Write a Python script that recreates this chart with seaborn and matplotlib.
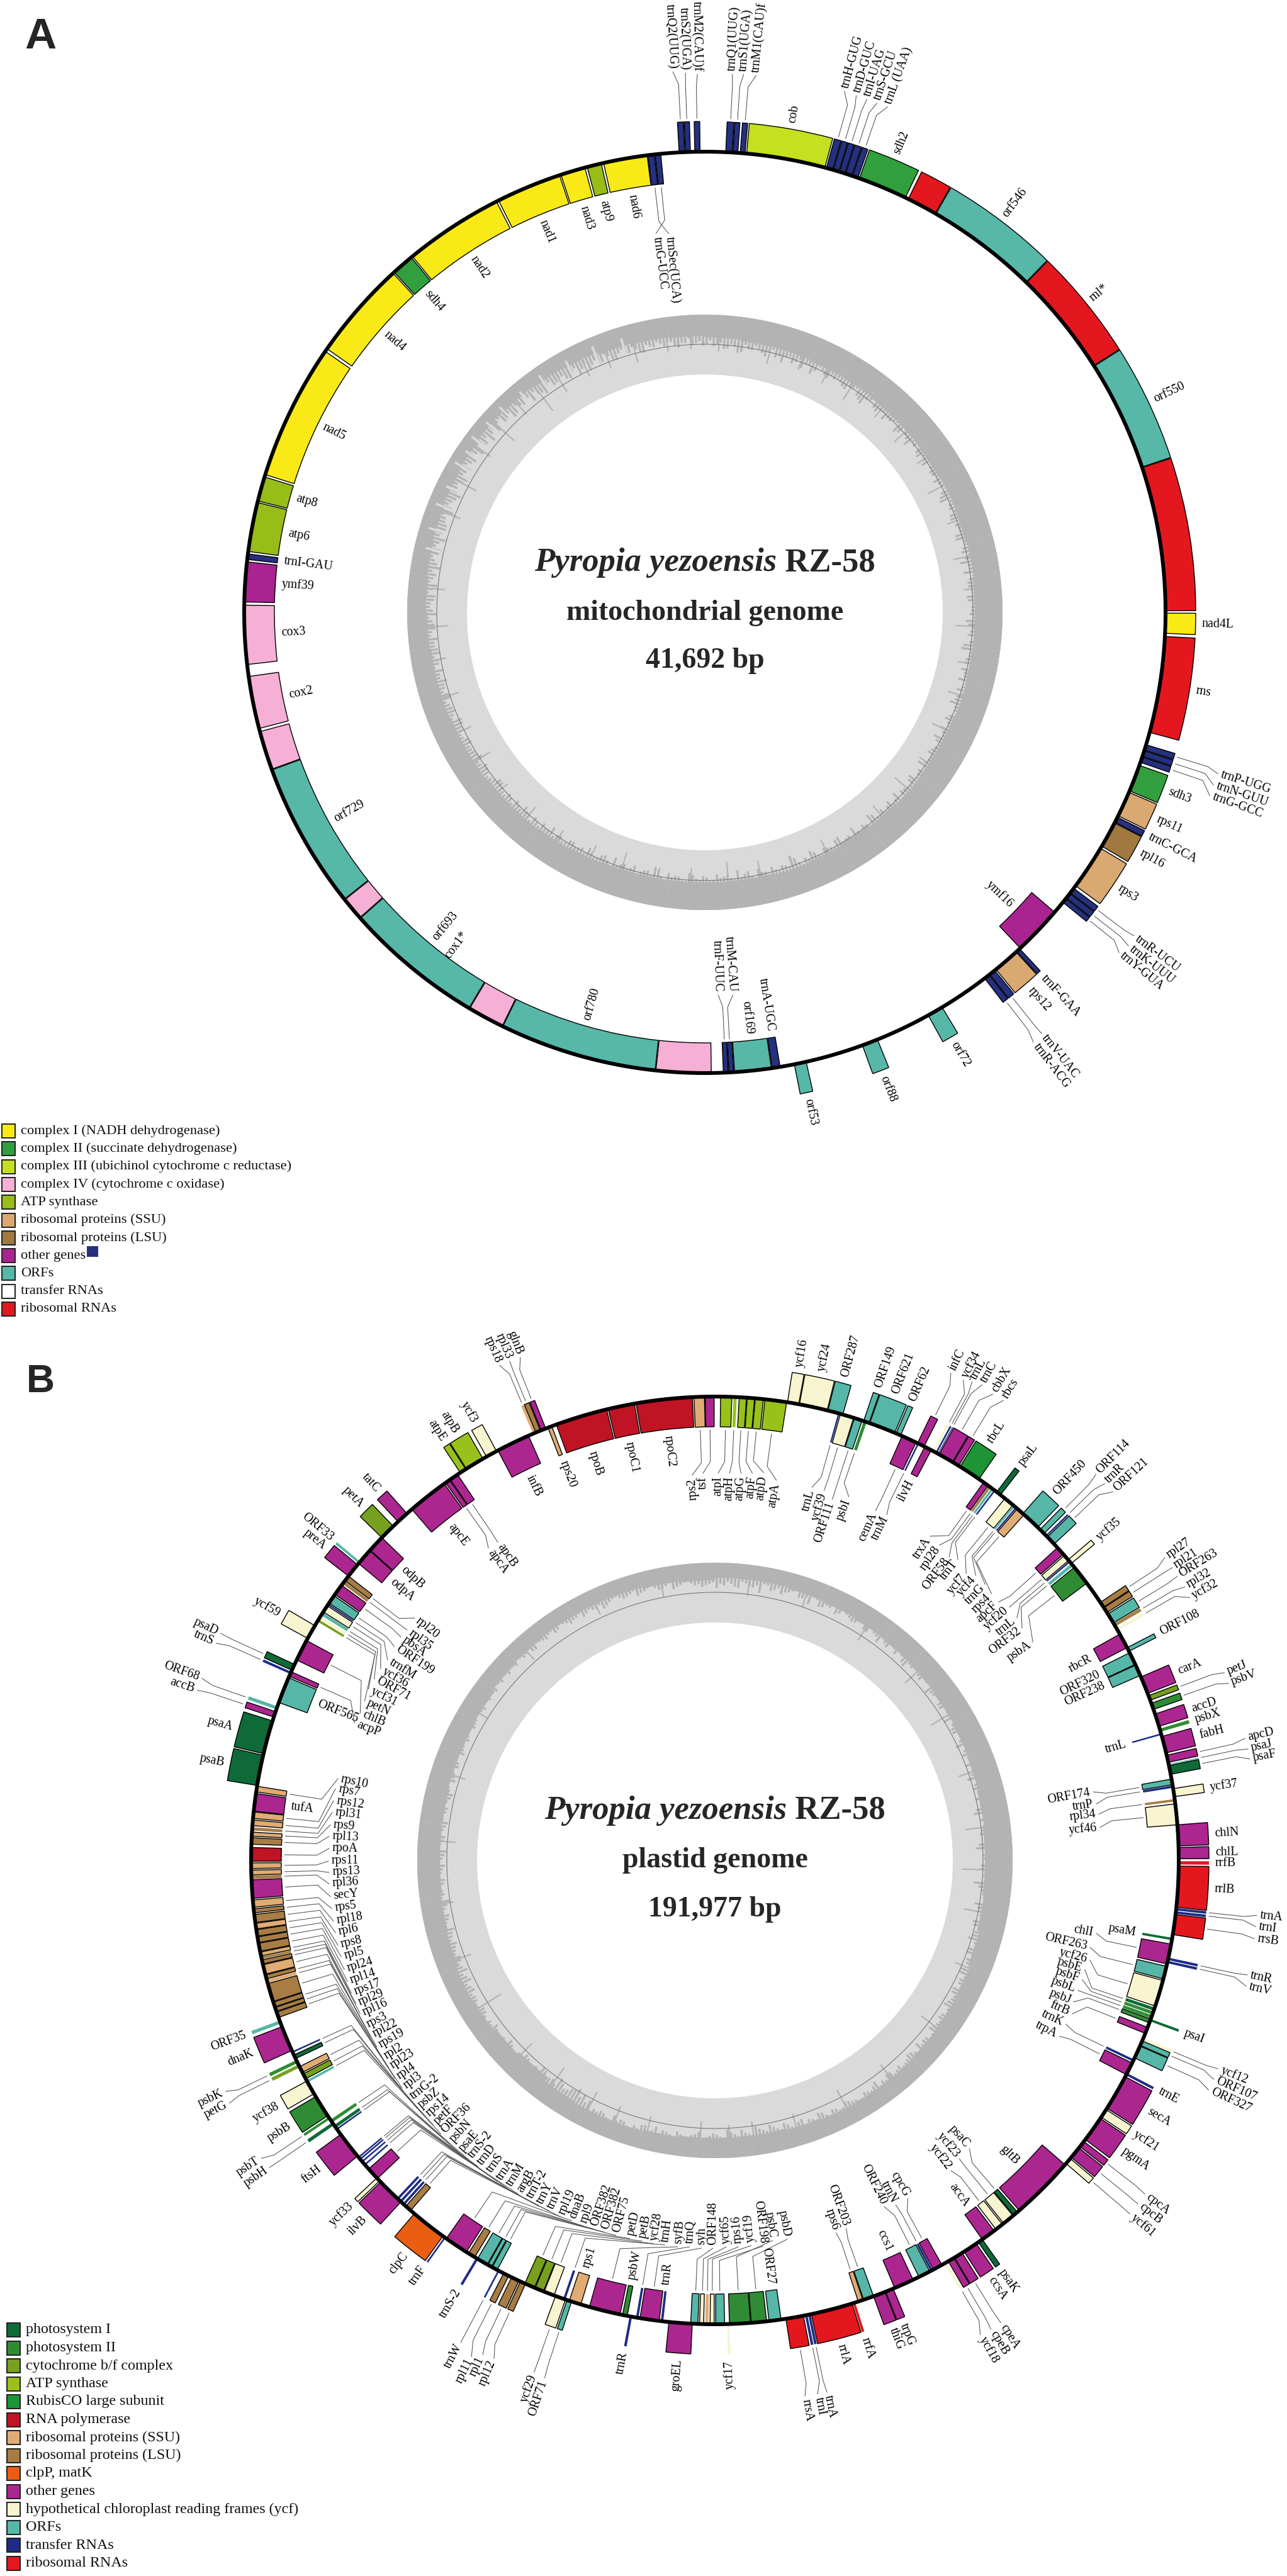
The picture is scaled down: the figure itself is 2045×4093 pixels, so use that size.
import numpy as np
import pandas as pd
import seaborn as sns
import matplotlib
matplotlib.use('Agg')
import matplotlib.pyplot as plt
from matplotlib.patches import Rectangle

# ---- panel A, mitochondrial genome: angles in degrees clockwise from north ----
mt_names = ['trnQ1(UUG)', 'trnS1(UGA)', 'trnM1(CAU)f', 'cob', 'trnH-GUG', 'trnD-GUC', 'trnI-UAG', 'trnS-GCU',
            'trnL (UAA)', 'sdh2', '', 'orf546', 'rnl*', 'orf550', '', 'nad4L', 'rns', 'trnP-UGG', 'trnN-GUU',
            'trnG-GCC', 'sdh3', 'rps11', 'trnC-GCA', 'rpl16', 'rps3', 'trnR-UCU', 'trnK-UUU', 'trnY-GUA', 'ymf16',
            'trnF-GAA', 'rps12', 'trnV-UAC', 'trnR-ACG', 'orf72', 'orf88', 'orf53', 'trnA-UGC', 'orf169', 'trnM-CAU',
            'trnF-UUC', '', 'orf780', 'cox1*', 'orf693', '', 'orf729', '', 'cox2', 'cox3', 'ymf39', 'trnI-GAU',
            'atp6', 'atp8', 'nad5', 'nad4', 'sdh4', 'nad2', 'nad1', 'nad3', 'atp9', 'nad6', 'trnSec(UCA)', 'trnG-UCC',
            'trnQ2(UUG)', 'trnS2(UGA)', 'trnM2(CAU)f']
mt_start = [2.6, 3.5, 4.4, 5.2, 15.3, 16.2, 17, 17.8,
            18.7, 19.6, 26.2, 30.1, 44.3, 57.7, 71.7, 90.1, 93, 106.7, 107.5,
            108.3, 109.4, 113, 116.4, 117.2, 120.8, 126.8, 127.6, 128.4, 130.6,
            136.9, 137.5, 141, 141.9, 149, 158, 167.3, 170.6, 171.7, 176.4,
            177.1, 179.2, 186.2, 206.1, 210.8, 228.5, 231.5, 250.1, 255.4, 263.5, 271.3, 276.6,
            277.6, 284, 287.4, 304.9, 317.6, 320.6, 333.4, 341.8, 345.2, 347.3, 352.9, 353.8,
            356.8, 357.6, 358.75]
mt_end = [3.4, 4.1, 5.0, 15.1, 16.1, 16.9, 17.7, 18.6,
          19.4, 25.8, 30, 44.2, 57.6, 71.6, 89.8, 92.6, 105.1, 107.4, 108.2,
          109, 112.8, 116.2, 117.1, 120.5, 126.4, 127.5, 128.3, 129, 136.8,
          137.4, 140.8, 141.8, 142.6, 151, 160, 168.8, 171.6, 176.3, 177,
          177.7, 186.1, 206, 210.7, 228.4, 231.4, 250, 255, 262, 270.9, 276.3, 277.3,
          283.8, 287.1, 304.5, 317.4, 320.4, 333.1, 341.6, 344.9, 347, 352.8, 353.7, 354.5,
          357.5, 358.2, 359.4]
mt_side = ['o'] * 28 + ['i'] + ['o'] * 7 + ['i'] * 27 + ['o'] * 3
mt_group = ['trna', 'trna', 'trna', 'c3', 'trna', 'trna', 'trna', 'trna',
            'trna', 'c2', 'rrna', 'orf', 'rrna', 'orf', 'rrna', 'c1', 'rrna', 'trna', 'trna',
            'trna', 'c2', 'ssu', 'trna', 'lsu', 'ssu', 'trna', 'trna', 'trna', 'other',
            'trna', 'ssu', 'trna', 'trna', 'orf', 'orf', 'orf', 'trna', 'orf', 'trna',
            'trna', 'c4', 'orf', 'c4', 'orf', 'c4', 'orf', 'c4', 'c4', 'c4', 'other', 'trna',
            'atp', 'atp', 'c1', 'c1', 'c2', 'c1', 'c1', 'c1', 'atp', 'c1', 'trna', 'trna',
            'trna', 'trna', 'trna']

mt_colors = {'c1': '#F9EA17', 'c2': '#329F3E', 'c3': '#C5E021', 'c4': '#F6AFD5', 'atp': '#98BC18',
             'ssu': '#DAA871', 'lsu': '#A07840', 'other': '#A92490', 'orf': '#57B8A8',
             'trna': '#25307E', 'rrna': '#E4171F'}

mt_legend = ['complex I (NADH dehydrogenase)', 'complex II (succinate dehydrogenase)',
             'complex III (ubichinol cytochrome c reductase)', 'complex IV (cytochrome c oxidase)',
             'ATP synthase', 'ribosomal proteins (SSU)', 'ribosomal proteins (LSU)', 'other genes',
             'ORFs', 'transfer RNAs', 'ribosomal RNAs']
mt_legend_colors = ['#F9EA17', '#329F3E', '#C5E021', '#F6AFD5', '#98BC18', '#DAA871', '#A07840', '#A92490',
                    '#57B8A8', '#FFFFFF', '#E4171F']

# GC depth (pixels in from the outer edge of the ring): solid band each 7.5 degrees,
# then bars each 1.5 degrees and a second set half way between them
mt_gc_floor = [36, 38, 38, 40, 40, 42, 42, 44, 42, 44, 42, 44,
               44, 44, 42, 44, 44, 42, 44, 46, 44, 42, 44, 44,
               44, 44, 44, 42, 40, 38, 38, 36, 36, 34, 34, 32,
               30, 28, 26, 24, 22, 20, 22, 24, 26, 30, 32, 34]
mt_gc = [46, 50, 44, 52, 48, 55, 49, 43, 51, 47, 53, 58, 45, 50, 56, 48, 52, 46, 54, 50,
         49, 55, 47, 53, 60, 46, 52, 49, 57, 51, 45, 54, 48, 59, 50, 53, 47, 56, 49, 52,
         55, 48, 53, 61, 50, 47, 56, 52, 49, 58, 46, 54, 51, 48, 57, 50, 53, 46, 55, 49,
         52, 58, 47, 54, 50, 62, 48, 53, 56, 49, 45, 55, 51, 59, 47, 52, 50, 57, 48, 54,
         50, 56, 48, 60, 52, 46, 55, 49, 53, 58, 47, 51, 54, 49, 61, 50, 46, 56, 52, 48,
         57, 50, 54, 47, 59, 52, 49, 63, 51, 46, 55, 50, 57, 48, 53, 60, 49, 52, 56, 47,
         54, 50, 58, 46, 52, 55, 48, 61, 53, 49, 56, 47, 51, 59, 50, 54, 46, 57, 52, 48,
         53, 45, 49, 56, 47, 43, 51, 46, 54, 48, 42, 50, 45, 53, 47, 41, 49, 44, 52, 46,
         43, 48, 40, 46, 51, 42, 45, 38, 47, 43, 49, 41, 36, 44, 48, 40, 46, 38, 43, 35,
         41, 37, 44, 39, 34, 42, 47, 36, 40, 33, 45, 38, 41, 35, 43, 31, 39, 36, 30, 42,
         34, 28, 38, 32, 25, 36, 41, 30, 27, 35, 29, 38, 33, 26, 42, 37, 44, 31, 39, 35,
         45, 33, 40, 47, 36, 43, 38, 48, 35, 44, 41, 49, 42, 37, 46, 40, 50, 44, 48, 42]
mt_gc_half = [41, 47, 53, 45, 57, 43, 50, 46, 55, 42, 49, 47, 54, 44, 48, 59, 43, 51, 47, 45,
              53, 48, 44, 57, 49, 42, 55, 47, 50, 46, 58, 43, 52, 47, 44, 56, 51, 45, 53, 47,
              50, 44, 58, 46, 52, 55, 43, 49, 57, 47, 51, 45, 60, 48, 44, 53, 49, 56, 47, 50,
              46, 54, 50, 44, 59, 47, 52, 45, 50, 57, 48, 46, 53, 49, 44, 56, 47, 51, 60, 46,
              53, 47, 52, 45, 49, 58, 47, 51, 44, 50, 56, 46, 48, 57, 45, 53, 49, 44, 50, 59,
              47, 52, 46, 55, 48, 44, 58, 47, 53, 49, 45, 51, 44, 56, 48, 46, 54, 50, 47, 52,
              48, 55, 46, 51, 49, 44, 57, 47, 52, 45, 50, 54, 47, 44, 56, 48, 51, 46, 49, 53,
              47, 51, 44, 48, 52, 46, 41, 49, 45, 52, 47, 43, 48, 54, 44, 46, 51, 42, 47, 44,
              49, 41, 45, 50, 38, 46, 42, 48, 39, 44, 40, 47, 43, 38, 45, 41, 36, 44, 40, 47,
              36, 42, 33, 46, 38, 35, 41, 32, 44, 37, 34, 41, 36, 30, 39, 35, 44, 33, 37, 31,
              39, 33, 27, 40, 35, 28, 32, 38, 24, 33, 41, 28, 36, 31, 29, 39, 34, 40, 35, 42,
              38, 46, 35, 41, 44, 33, 46, 39, 42, 36, 47, 38, 44, 41, 39, 47, 43, 37, 45, 49]
mt_spike_theta = [3, 8, 14, 21, 27, 33, 41, 48, 55, 62, 70, 78, 85, 93, 101, 108, 116, 124, 131, 139, 146,
                  153, 161, 168, 175, 183, 190, 198, 205, 213, 221, 229, 237, 244, 252, 260, 267, 275, 283,
                  291, 298, 306, 312, 318, 323, 328, 334, 339, 345, 352, 357]
mt_spike_depth = [58, 55, 66, 60, 64, 70, 62, 68, 61, 72, 63, 69, 60, 74, 64, 67, 71, 62, 73, 66, 61,
                  68, 64, 70, 75, 66, 61, 72, 65, 60, 63, 58, 66, 60, 62, 56, 64, 58, 54,
                  57, 62, 52, 66, 50, 72, 60, 56, 58, 62, 55, 54]
mt_notch_theta = [283, 287, 292, 296, 301, 304, 307, 311, 315, 320, 325, 331, 337, 343]
mt_notch_depth = [18, 14, 12, 16, 10, 14, 9, 13, 12, 15, 13, 16, 14, 18]

# ---- panel B, plastid genome ----
pt_names = ['atpI', 'atpH', 'atpG', 'atpF', 'atpD', 'atpA', 'ycf16', 'ycf24', 'ORF287', 'trnL',
            'ycf39', 'ORF111', 'psbI', 'ORF149', 'ORF621', 'ORF62', 'cemA', 'trnM', 'infC', 'ilvH',
            'ycf34', 'trnL', 'trnC', 'cbbX', 'rbcs', 'rbcL', 'trxA', 'rpl28', 'ORF58', 'trnT',
            'psaL', 'ycf7', 'ycf4', 'trnG', 'rps4', 'ORF450', 'ORF114', 'trnR', 'ORF121', 'apcF',
            'ycf20', 'trnL', 'ycf35', 'ORF32', 'psbA', 'rpl27', 'rpl21', 'ORF263', 'rpl32', 'ycf32',
            'rbcR', 'ORF108', 'ORF320', 'ORF238', 'carA', 'petJ', 'psbV', 'accD', 'psbX', 'trnL',
            'fabH', 'apcD', 'psaJ', 'psaF', 'ORF174', 'trnP', 'ycf37', 'rpl34', 'ycf46', 'chlN',
            'chlL', 'rrfB', 'rrlB', 'trnA', 'trnI', 'rrsB', 'psaM', 'chlI', 'trnR', 'trnV',
            'ORF263', 'ycf26', 'psbE', 'psbF', 'psbL', 'psaI', 'psbJ', 'ftrB', 'ycf12', 'ORF107',
            'ORF327', 'trnK', 'trpA', 'trnE', 'secA', 'ycf21', 'pgmA', 'cpcA', 'cpcB', 'ycf61',
            'gltB', 'psaC', 'ycf23', 'ycf22', 'accA', 'psaK', 'ccsA', 'cpeA', 'cpeB', 'ycf18',
            'cpcG', 'trnN', 'ORF240', 'ccs1', 'trpG', 'thiG', 'ORF203', 'rps6', 'rrfA', 'rrlA',
            'trnA', 'trnI', 'rrsA', 'ORF27', 'psbD', 'psbC', 'ycf17', 'ORF198', 'ycf19', 'rps16',
            'ycf65', 'ORF148', 'groEL', 'trnR', 'syh', 'trnQ', 'trnR', 'psbW', 'syfB', 'rps1',
            'ORF71', 'ycf29', 'trnH', 'ycf28', 'petB', 'petD', 'rpl12', 'rpl1', 'rpl11', 'trnW',
            'ORF75', 'ORF382', 'ORF382', 'trnS-2', 'rpl9', 'dnaB', 'trnF', 'clpC', 'rpl19', 'trnV',
            'trnY', 'trnT-2', 'ilvB', 'ycf33', 'argB', 'trnM', 'trnA', 'trnS', 'trnD', 'ftsH',
            'trnS-2', 'psaE', 'psbH', 'psbN', 'psbT', 'psbB', 'ycf38', 'ORF36', 'petF', 'rps14',
            'petG', 'psbK', 'psbZ', 'trnG-2', 'dnaK', 'ORF35', 'rpl3', 'rpl4', 'rpl23', 'rpl2',
            'rps19', 'rpl22', 'rps3', 'rpl16', 'rpl29', 'rps17', 'rpl14', 'rpl24', 'rpl5', 'rps8',
            'rpl6', 'rpl18', 'rps5', 'secY', 'rpl36', 'rps13', 'rps11', 'rpoA', 'rpl13', 'rps9',
            'rpl31', 'rps12', 'rps7', 'tufA', 'rps10', 'psaB', 'psaA', 'accB', 'ORF68', 'ORF565',
            'acpP', 'trnS', 'psaD', 'chlB', 'ycf59', 'petN', 'ycf31', 'ORF71', 'ycf36', 'trnfM',
            'ORF199', 'pbsA', 'rpl35', 'rpl20', 'preA', 'odpA', 'ORF33', 'odpB', 'petA', 'tatC',
            'apcE', 'apcA', 'apcB', 'atpE', 'atpB', 'ycf3', 'infB', 'rps18', 'rpl33', 'glnB',
            'rps20', 'rpoB', 'rpoC1', 'rpoC2', 'rps2', 'tsf']
pt_start = [.7, 2.3, 3, 4, 5, 6.2, 9, 10.5, 14.1, 15.4,
            15.7, 17.5, 18.7, 18.7, 19.5, 23, 23.8, 25.9, 25.9, 26.9,
            28, 28.4, 28.7, 28.9, 30.9, 31.9, 35.4, 36.2, 36.6, 37,
            37.4, 38.7, 40.1, 40.4, 40.7, 41.6, 44.5, 45.5, 45.8, 47.6,
            48.9, 49.8, 49.6, 50.2, 50.8, 56.2, 57, 57.9, 59.3, 60,
            60.8, 62.7, 63.4, 65.1, 66.7, 69.2, 70.2, 71.6, 73.5, 74.1,
            74.5, 76.9, 78, 78.2, 79.9, 80.7, 81.1, 82.4, 83, 85.6,
            88.4, 90.1, 90.7, 95.9, 96.3, 96.7, 99.6, 100.4, 102.1, 102.5,
            103.2, 105, 108.5, 109, 109.5, 110, 110, 111.1, 112.5, 112.9,
            113.6, 115.4, 115.9, 117.3, 117.8, 122.5, 123.8, 127.3, 128.3, 130,
            131, 139.3, 140, 141.7, 143, 144.8, 145.7, 147.8, 149, 150,
            150.7, 152, 152.4, 154.7, 157.4, 158.5, 160, 161.4, 162.4, 162.8,
            168.1, 168.5, 169, 171.8, 173.6, 175.6, 178.2, 178.8, 180.1, 180.8,
            181.4, 182.1, 182.8, 186.4, 186.9, 189.5, 190.3, 190.9, 191.8, 196.8,
            198, 198.8, 198.8, 200.3, 201.7, 202.9, 204.1, 205, 206.4, 207.7,
            208, 208.8, 209.4, 210.7, 211.2, 212.4, 215.5, 215.9, 221, 222,
            222.5, 223, 222.6, 226.3, 226.7, 228.9, 229.4, 229.8, 230.1, 230.4,
            234.5, 234.8, 235.2, 235.6, 236.1, 236.6, 239.8, 241.4, 241.9, 242.8,
            243.5, 244.1, 244.7, 245.5, 245.8, 249.4, 250.2, 251, 251.6, 252.3,
            254.7, 255.2, 255.8, 257.1, 257.7, 258.1, 258.7, 259.8, 260.6, 261.5,
            262.3, 263.5, 264.2, 265.3, 267.7, 268.2, 269, 269.9, 272, 273,
            273.7, 274.3, 275.2, 276.1, 278.5, 279.3, 283.3, 288, 289, 289.9,
            293.4, 293.7, 294.2, 295.6, 298.6, 301, 301.4, 301.9, 302.4, 303.4,
            303.7, 305, 306.6, 307.1, 307.8, 309.8, 309.8, 312, 314.1, 316.9,
            319.2, 324.5, 325.2, 326.7, 327.6, 330.5, 332.1, 336.9, 337.3, 338,
            338.9, 340, 346.7, 350.2, 357.4, 358.8]
pt_end = [2.1, 2.7, 3.9, 4.9, 6, 8.9, 10.4, 14, 16, 15.6,
          17.4, 18.5, 19.1, 19.4, 22.8, 23.6, 25.7, 26.1, 26.8, 27.8,
          28.3, 28.6, 28.8, 30.8, 31.7, 34.7, 36.1, 36.5, 36.9, 37.2,
          38, 40, 40.3, 40.6, 41.8, 44.1, 45.2, 45.7, 47, 48.7,
          49.7, 50, 50.2, 50.6, 53.3, 56.9, 57.7, 59.2, 59.7, 60.3,
          62.7, 63.2, 65, 66.5, 68.9, 69.8, 71, 73.2, 73.9, 74.3,
          76.6, 77.8, 78.1, 79.3, 80.6, 81, 82.1, 82.7, 85.6, 88.2,
          89.8, 90.5, 95.8, 96.2, 96.6, 99.2, 99.9, 102.9, 102.4, 102.8,
          104.8, 108.3, 108.9, 109.4, 109.9, 110.3, 110.5, 111.9, 112.8, 113.5,
          115.2, 115.7, 117.5, 117.6, 122.3, 123.6, 127, 128.1, 129.8, 130.8,
          139, 139.9, 141.5, 142.7, 144.8, 145.4, 147.5, 148.9, 149.8, 150.3,
          151.9, 152.3, 153.9, 157.2, 158.4, 160, 161.3, 162, 162.7, 168,
          168.4, 168.8, 171.2, 173.3, 175.5, 178.2, 178.5, 179.9, 180.6, 181.2,
          181.9, 183, 185.7, 186.7, 189.3, 189.8, 190.6, 191.5, 195.7, 198.3,
          198.6, 200.1, 199.1, 201.6, 202.8, 204.2, 204.8, 206, 207.1, 207.9,
          208.7, 209.3, 210.8, 211, 212.1, 215.4, 215.7, 220.4, 221.8, 222.3,
          222.8, 223.3, 226.1, 226.8, 228.3, 229.1, 229.6, 230, 230.3, 233.8,
          234.7, 235.2, 235.6, 236, 236.4, 239.4, 241.6, 241.7, 242.6, 243.6,
          243.9, 244.5, 245.2, 245.7, 249, 249.8, 250.9, 251.5, 252.2, 254.6,
          255.1, 255.7, 257, 257.6, 258, 258.6, 259.7, 260.5, 261.4, 262.2,
          263.3, 264, 265.1, 267.6, 268.1, 268.8, 269.7, 271.6, 272.8, 273.5,
          274.1, 275, 276, 278.3, 279.2, 283.1, 287.5, 288.7, 289.4, 293.2,
          294, 294, 295, 298.3, 300.4, 301.3, 301.8, 302.3, 303.3, 303.6,
          304.8, 306.4, 307, 307.8, 309.6, 311.9, 310.1, 314.1, 316.1, 318.4,
          324.3, 325.1, 326.3, 327.5, 330, 331.9, 336.3, 337.3, 337.9, 338.6,
          339.4, 346.5, 350, 357.2, 358.7, 359.9]
# one letter per gene, same rows as pt_names: o outside the circle, i inside
pt_side = list('iiiiiioooi' 'iiioooiioi' 'ooooooiiii' 'oiiiiooooi' 'iioiiooooo'
               'ioiioooooi' 'ooooiioiio' 'ooooooiioo' 'iiiiioiioo' 'oiiooooooo'
               'iiiiiooooo' 'iiiiooiioo' 'oooiiioiii' 'iioiiioiii' 'ooiiiioooo'
               'iiioiiooii' 'iiooiiiiio' 'iioioooiii' 'ooiiooiiii' 'iiiiiiiiii'
               'iiiiiiiiii' 'iiiiiooooi' 'iooioiiiii' 'iiiioioioo' 'iiioooiooo' 'iiiiii')
pt_group = ['atp', 'atp', 'atp', 'atp', 'atp', 'atp', 'ycf', 'ycf', 'orf', 'trna',
            'ycf', 'orf', 'ps2', 'orf', 'orf', 'orf', 'other', 'trna', 'other', 'other',
            'ycf', 'trna', 'trna', 'other', 'other', 'rubisco', 'other', 'lsu', 'orf', 'trna',
            'ps1', 'ycf', 'orf', 'trna', 'ssu', 'orf', 'orf', 'trna', 'orf', 'other',
            'ycf', 'trna', 'ycf', 'orf', 'ps2', 'lsu', 'lsu', 'orf', 'lsu', 'ycf',
            'other', 'orf', 'orf', 'orf', 'other', 'cyt', 'ps2', 'other', 'ps2', 'trna',
            'other', 'other', 'orf', 'ps1', 'orf', 'trna', 'ycf', 'lsu', 'ycf', 'other',
            'other', 'rrna', 'rrna', 'trna', 'trna', 'rrna', 'ps1', 'other', 'trna', 'trna',
            'orf', 'ycf', 'ps1', 'ps2', 'ps2', 'ps1', 'ps2', 'other', 'ycf', 'orf',
            'orf', 'trna', 'other', 'trna', 'other', 'ycf', 'other', 'other', 'other', 'ycf',
            'other', 'ps1', 'ycf', 'ycf', 'other', 'ps1', 'other', 'other', 'other', 'ycf',
            'other', 'trna', 'orf', 'other', 'other', 'other', 'orf', 'ssu', 'rrna', 'rrna',
            'trna', 'trna', 'rrna', 'orf', 'ps2', 'ps2', 'ycf', 'orf', 'ycf', 'ssu',
            'ycf', 'orf', 'other', 'trna', 'other', 'trna', 'trna', 'ps2', 'other', 'ssu',
            'orf', 'ycf', 'trna', 'ycf', 'cyt', 'cyt', 'lsu', 'lsu', 'lsu', 'trna',
            'orf', 'orf', 'orf', 'trna', 'lsu', 'other', 'trna', 'clp', 'lsu', 'trna',
            'trna', 'trna', 'other', 'ycf', 'other', 'trna', 'trna', 'trna', 'trna', 'other',
            'trna', 'ps1', 'ps1', 'ps2', 'ps2', 'ps2', 'ycf', 'orf', 'cyt', 'ssu',
            'cyt', 'ps2', 'ps1', 'trna', 'other', 'orf', 'lsu', 'lsu', 'lsu', 'lsu',
            'ssu', 'lsu', 'ssu', 'lsu', 'lsu', 'ssu', 'lsu', 'lsu', 'lsu', 'ssu',
            'lsu', 'lsu', 'ssu', 'other', 'lsu', 'ssu', 'ssu', 'rnap', 'lsu', 'ssu',
            'lsu', 'ssu', 'ssu', 'other', 'ssu', 'ps1', 'ps1', 'other', 'orf', 'orf',
            'other', 'trna', 'ps1', 'other', 'ycf', 'cyt', 'ycf', 'orf', 'ycf', 'trna',
            'orf', 'other', 'lsu', 'lsu', 'other', 'other', 'orf', 'other', 'cyt', 'other',
            'other', 'other', 'other', 'atp', 'atp', 'ycf', 'other', 'ssu', 'lsu', 'other',
            'ssu', 'rnap', 'rnap', 'rnap', 'ssu', 'other']

pt_colors = {'ps1': '#0E6A37', 'ps2': '#2F8C34', 'cyt': '#77A01E', 'atp': '#98C11A', 'rubisco': '#1E9436',
             'rnap': '#C01324', 'ssu': '#E0AC73', 'lsu': '#A77D45', 'clp': '#E95E13', 'other': '#AC2690',
             'ycf': '#F7F4CF', 'orf': '#56B7A8', 'trna': '#1D2C85', 'rrna': '#E4171F'}

pt_legend = ['photosystem I', 'photosystem II', 'cytochrome b/f complex', 'ATP synthase', 'RubisCO large subunit',
             'RNA polymerase', 'ribosomal proteins (SSU)', 'ribosomal proteins (LSU)', 'clpP, matK', 'other genes',
             'hypothetical chloroplast reading frames (ycf)', 'ORFs', 'transfer RNAs', 'ribosomal RNAs']
pt_legend_colors = ['#0E6A37', '#2F8C34', '#77A01E', '#98C11A', '#1E9436', '#C01324', '#E0AC73', '#A77D45',
                    '#E95E13', '#AC2690', '#F7F4CF', '#56B7A8', '#1D2C85', '#E4171F']

pt_gc_floor = [24, 24, 26, 28, 30, 32, 34, 36, 38, 40, 42, 44,
               44, 42, 38, 34, 32, 30, 28, 28, 28, 30, 32, 32,
               32, 30, 28, 28, 30, 38, 34, 30, 28, 32, 34, 36,
               36, 36, 34, 34, 32, 28, 26, 24, 24, 24, 26, 28]
pt_gc = [40, 36, 33, 38, 30, 35, 42, 28, 33, 37, 31, 26, 34, 40, 29, 36, 32, 38, 27, 33,
         35, 30, 38, 33, 42, 36, 31, 39, 34, 44, 37, 32, 41, 35, 46, 39, 33, 43, 37, 48,
         40, 45, 38, 50, 42, 36, 47, 41, 52, 44, 39, 48, 43, 55, 46, 40, 50, 44, 58, 47,
         42, 52, 46, 60, 48, 43, 55, 47, 41, 50, 45, 53, 39, 48, 44, 37, 46, 41, 35, 43,
         38, 44, 33, 40, 36, 42, 30, 37, 41, 34, 39, 32, 36, 30, 38, 34, 40, 31, 35, 29,
         33, 38, 30, 36, 32, 40, 34, 29, 37, 33, 42, 36, 44, 38, 46, 35, 43, 37, 45, 34,
         39, 33, 41, 35, 30, 38, 32, 36, 40, 31, 37, 33, 29, 35, 38, 30, 36, 34, 43, 48,
         52, 45, 38, 50, 42, 36, 47, 40, 33, 44, 38, 31, 42, 36, 30, 40, 35, 33, 38, 31,
         36, 40, 33, 38, 44, 35, 41, 37, 43, 39, 45, 36, 42, 38, 46, 40, 36, 43, 38, 44,
         40, 46, 37, 43, 39, 45, 35, 41, 38, 44, 36, 42, 37, 40, 34, 41, 36, 39, 33, 38,
         35, 30, 37, 32, 28, 35, 30, 26, 33, 29, 25, 31, 27, 34, 28, 32, 26, 30, 27, 33,
         29, 34, 27, 32, 36, 30, 26, 33, 29, 35, 31, 27, 34, 30, 37, 32, 28, 35, 38, 33]
pt_gc_half = [33, 30, 37, 28, 34, 31, 27, 36, 29, 33, 28, 35, 30, 27, 38, 31, 28, 34, 30, 36,
              31, 37, 29, 35, 32, 39, 33, 30, 41, 35, 31, 38, 34, 30, 40, 36, 42, 35, 40, 34,
              44, 37, 42, 36, 46, 40, 38, 44, 37, 47, 41, 36, 50, 42, 39, 47, 41, 53, 43, 46,
              50, 44, 39, 52, 45, 40, 49, 44, 52, 38, 47, 41, 46, 38, 42, 47, 36, 40, 44, 37,
              41, 35, 38, 34, 39, 32, 36, 33, 30, 38, 34, 30, 33, 37, 31, 29, 35, 33, 29, 32,
              36, 31, 34, 29, 38, 31, 36, 40, 31, 38, 33, 40, 35, 41, 33, 38, 34, 40, 32, 37,
              35, 30, 37, 32, 34, 29, 35, 31, 33, 38, 30, 28, 34, 31, 29, 34, 32, 29, 37, 41,
              46, 40, 44, 36, 39, 45, 37, 35, 41, 35, 33, 38, 32, 29, 36, 33, 30, 37, 32, 35,
              33, 37, 42, 34, 38, 40, 35, 39, 36, 41, 34, 40, 35, 42, 36, 38, 41, 36, 40, 37,
              43, 35, 40, 36, 42, 37, 40, 35, 42, 38, 34, 39, 35, 38, 33, 37, 34, 36, 32, 36,
              30, 34, 29, 35, 31, 27, 33, 29, 28, 32, 27, 29, 33, 26, 30, 28, 32, 25, 29, 30,
              26, 31, 30, 28, 33, 27, 29, 31, 26, 32, 28, 30, 33, 27, 34, 29, 31, 33, 35, 31]
pt_spike_theta = [7, 19, 33, 47, 58, 71, 83, 92, 101, 113, 127, 141, 152, 163, 172, 177, 183, 194, 201,
                  207, 216, 225, 238, 249, 261, 274, 288, 302, 318, 335, 349]
pt_spike_depth = [50, 47, 56, 60, 68, 64, 72, 80, 70, 58, 62, 55, 60, 52, 54, 52, 58, 54, 55,
                  60, 66, 62, 72, 58, 52, 60, 56, 46, 44, 42, 48]


# anchor of a label (end nearest the ring), reference pixels, key is name:start
mt_label_xy = {
    'trnQ2(UUG):356': (1069, 109), 'trnS2(UGA):357': (1089, 111), 'trnM2(CAU)f:358': (1108, 113),
    'trnQ1(UUG):2': (1164, 113), 'trnS1(UGA):3': (1182, 113), 'trnM1(CAU)f:4': (1202, 115),
    'trnH-GUG:15': (1343, 140), 'trnD-GUC:16': (1362, 147), 'trnI-UAG:17': (1379, 153),
    'trnS-GCU:17': (1395, 159), 'trnL (UAA):18': (1412, 165),
    'trnP-UGG:106': (1940, 1231), 'trnN-GUU:107': (1933, 1249), 'trnG-GCC:108': (1927, 1266),
    'trnR-UCU:126': (1806, 1490), 'trnK-UUU:127': (1797, 1506), 'trnY-GUA:128': (1782, 1517),
    'trnV-UAC:141': (1658, 1646), 'trnR-ACG:141': (1645, 1660),
    'trnM-CAU:176': (1164, 1576), 'trnF-UUC:177': (1141, 1576),
    'cox1*:206': (711, 1521), 'trnSec(UCA):352': (1063, 376), 'trnG-UCC:353': (1043, 376),
}
pt_label_xy = {
    'rps10:278': (542, 2827), 'rps7:275': (538, 2843), 'rps12:274': (535, 2862), 'rpl31:273': (533, 2880),
    'rps9:273': (530, 2900), 'rpl13:272': (528, 2918), 'rpoA:269': (528, 2937), 'rps11:269': (527, 2957),
    'rps13:268': (528, 2975), 'rpl36:267': (528, 2993), 'secY:265': (530, 3013), 'rps5:264': (532, 3032),
    'rpl18:263': (535, 3052), 'rpl6:262': (538, 3070), 'rps8:261': (542, 3090), 'rpl5:260': (547, 3108),
    'rpl24:259': (552, 3128), 'rpl14:258': (557, 3147), 'rps17:258': (563, 3165), 'rpl29:257': (570, 3182),
    'rpl16:257': (577, 3198), 'rps3:255': (584, 3217), 'rpl22:255': (593, 3233), 'rps19:254': (603, 3250),
    'rpl2:252': (612, 3268), 'rpl23:251': (622, 3283), 'rpl4:251': (632, 3300), 'rpl3:250': (643, 3315),
    'trnG-2:245': (654, 3332), 'psbZ:244': (667, 3347), 'rps14:242': (679, 3360), 'petF:241': (692, 3373),
    'ORF36:241': (704, 3387), 'psbN:235': (718, 3402), 'psaE:234': (733, 3417), 'trnS-2:234': (747, 3427),
    'trnD:230': (762, 3438), 'trnS:229': (777, 3450), 'trnA:229': (793, 3462), 'trnM:228': (809, 3473),
    'argB:226': (826, 3482), 'trnT-2:223': (842, 3492), 'trnY:222': (858, 3501), 'trnV:222': (875, 3509),
    'rpl19:221': (893, 3518), 'dnaB:212': (910, 3524), 'rpl9:211': (928, 3532), 'ORF382:209': (945, 3537),
    'ORF382:208': (962, 3542), 'ORF75:208': (980, 3547), 'petD:202': (1002, 3552), 'petB:201': (1021, 3556),
    'ycf28:200': (1039, 3560), 'trnH:198': (1057, 3562), 'syfB:191': (1077, 3565), 'trnQ:189': (1096, 3565),
    'syh:186': (1115, 3567), 'ORF148:182': (1133, 3567), 'ycf65:181': (1154, 3565), 'rps16:180': (1173, 3565),
    'ycf19:180': (1193, 3563), 'ORF198:178': (1212, 3564), 'psbC:175': (1227, 3555), 'psbD:173': (1250, 3553),
    'rps2:357': (1100, 2349), 'tsf:358': (1117, 2346), 'atpI:0': (1141, 2346), 'atpH:2': (1159, 2346),
    'atpG:3': (1177, 2346), 'atpF:4': (1195, 2346), 'atpD:5': (1213, 2345), 'atpA:6': (1233, 2357),
    'trnL:15': (1289, 2368), 'ycf39:15': (1308, 2373), 'ORF111:17': (1321, 2387), 'psbI:18': (1347, 2383),
    'cemA:23': (1389, 2405), 'trnM:25': (1407, 2411), 'infC:25': (1513, 2177), 'ycf34:28': (1533, 2188),
    'trnL:28': (1547, 2191), 'trnC:28': (1563, 2196), 'cbbX:28': (1580, 2211), 'rbcs:30': (1597, 2221),
    'trxA:35': (1475, 2445), 'rpl28:36': (1490, 2459), 'ORF58:36': (1505, 2478), 'trnT:37': (1519, 2482),
    'ycf7:38': (1532, 2504), 'ycf4:40': (1547, 2507), 'trnG:40': (1562, 2521), 'rps4:40': (1572, 2536),
    'apcF:47': (1583, 2549), 'ycf20:48': (1600, 2557), 'trnL:49': (1612, 2574), 'ORF32:50': (1620, 2590),
    'psbA:50': (1637, 2612), 'ORF114:44': (1745, 2339), 'trnR:45': (1759, 2354), 'ORF121:45': (1772, 2367),
    'rpl27:56': (1855, 2472), 'rpl21:57': (1867, 2488), 'ORF263:57': (1875, 2502), 'rpl32:59': (1887, 2519),
    'ycf32:60': (1895, 2536), 'petJ:69': (1950, 2656), 'psbV:70': (1957, 2673), 'apcD:76': (1983, 2761),
    'psaJ:78': (1988, 2778), 'psaF:78': (1991, 2794), 'ORF174:79': (1732, 2848), 'trnP:80': (1737, 2867),
    'rpl34:82': (1741, 2883), 'ycf46:83': (1743, 2904), 'trnA:95': (2002, 3044), 'trnI:96': (2000, 3062),
    'rrsB:96': (1998, 3081), 'chlI:100': (1737, 3071), 'ORF263:103': (1727, 3093), 'ycf26:105': (1727, 3113),
    'psbE:108': (1719, 3128), 'psbF:109': (1715, 3144), 'psbL:109': (1708, 3161), 'psbJ:110': (1701, 3179),
    'ftrB:111': (1699, 3198), 'trnK:115': (1689, 3214), 'trpA:115': (1679, 3233), 'trnR:102': (1987, 3139),
    'trnV:102': (1985, 3157), 'ycf12:112': (1940, 3289), 'ORF107:112': (1933, 3306), 'ORF327:113': (1925, 3323),
    'cpcA:127': (1823, 3489), 'cpcB:128': (1812, 3505), 'ycf61:130': (1799, 3521), 'psaC:139': (1537, 3410),
    'ycf23:140': (1521, 3426), 'ycf22:141': (1508, 3445), 'cpcG:150': (1440, 3489), 'trnN:152': (1421, 3499),
    'ORF240:152': (1403, 3502), 'cpeA:147': (1593, 3695), 'cpeB:149': (1577, 3705), 'ycf18:150': (1560, 3714),
    'ORF203:160': (1343, 3536), 'rps6:161': (1327, 3543), 'rrsA:169': (1280, 3812), 'trnI:168': (1300, 3809),
    'trnA:168': (1315, 3806), 'ycf29:198': (847, 3774), 'ORF71:198': (864, 3783), 'rpl12:204': (783, 3752),
    'rpl1:205': (765, 3746), 'rpl11:206': (747, 3749), 'trnW:207': (730, 3726), 'psbT:236': (411, 3432),
    'psbH:235': (424, 3447), 'psbK:244': (354, 3325), 'petG:243': (360, 3344), 'accB:288': (309, 2684),
    'ORF68:289': (316, 2665), 'psaD:294': (346, 2593), 'trnS:293': (339, 2609), 'acpP:293': (568, 2740),
    'chlB:295': (577, 2724), 'petN:301': (584, 2705), 'ycf31:301': (590, 2686), 'ORF71:301': (599, 2670),
    'ycf36:302': (609, 2654), 'trnfM:303': (620, 2640), 'ORF199:303': (631, 2619), 'pbsA:305': (641, 2604),
    'rpl35:306': (651, 2593), 'rpl20:307': (663, 2574), 'apcA:324': (779, 2464), 'apcB:325': (794, 2455),
    'rps18:336': (792, 2165), 'rpl33:337': (808, 2158), 'glnB:338': (825, 2152),
}

sns.set_theme(style='white')
plt.rcParams['font.family'] = ['Liberation Serif', 'DejaVu Serif']

W, H = 2045, 4093
PX = 0.72
RMAX = 1000
GENE_H = 48
fig = plt.figure(figsize=(W / 100, H / 100), dpi=100, facecolor='white')


def make_ring_axes(cx, cy):
    ax = fig.add_axes([(cx - RMAX) / W, 1 - (cy + RMAX) / H, 2 * RMAX / W, 2 * RMAX / H], projection='polar')
    ax.set_theta_zero_location('N')
    ax.set_theta_direction(-1)
    ax.patch.set_visible(False)
    return ax


def draw_gc(ax, floor, gc, gc_half, spike_theta, spike_depth, notch_theta=(), notch_depth=()):
    outer, inner, mid = 473, 378, 426
    ax.bar(np.pi, outer - inner, width=2 * np.pi, bottom=inner, color='#DADADA', lw=0)
    fl = np.array(floor, dtype=float)
    ax.bar(np.radians(np.arange(len(fl)) * 7.5 + 3.75), fl, width=np.radians(7.5), bottom=outer - fl,
           color='#B3B3B3', lw=0)
    depth = np.empty(len(gc) * 2)
    depth[::2] = gc
    depth[1::2] = gc_half
    theta = np.radians(np.arange(len(depth)) * 0.75 + 0.375)
    sns.barplot(x=theta, y=depth, native_scale=True, width=0.6, bottom=outer - depth, color='#B3B3B3',
                saturation=1, errorbar=None, linewidth=0, ax=ax)
    sd = np.array(spike_depth, dtype=float)
    ax.bar(np.radians(spike_theta), sd, width=np.radians(0.3), bottom=outer - sd, color='#B3B3B3', lw=0)
    if len(notch_theta):
        nd = np.array(notch_depth, dtype=float)
        ax.bar(np.radians(notch_theta), outer - nd - inner - 40, width=np.radians(0.45), bottom=inner + 40,
               color='#DADADA', lw=0)
    circle = np.radians(np.arange(0, 361))
    sns.lineplot(x=circle, y=np.full(361, mid), sort=False, estimator=None, color='#6E6E6E',
                 linewidth=1 * PX, ax=ax)


def draw_genes(ax, names, start, end, side, group, colors, label_xy, cx, cy, R, up, no_line=()):
    assert len(names) == len(start) == len(end) == len(side) == len(group)
    rows = []
    for i, (name, s, e, sd, g) in enumerate(zip(names, start, end, side, group)):
        base = R if sd == 'o' else R - GENE_H
        edge = R + GENE_H if sd == 'o' else R - GENE_H
        w = e - s
        ax.bar(np.radians(s), GENE_H, width=np.radians(w), bottom=base, align='edge', color=colors[g],
               edgecolor='black', lw=(1.4 * PX if w >= 0.45 else 0), zorder=3)
        if not name:
            continue
        mid = (s + e) / 2
        key = f'{name}:{int(s)}'
        if key in label_xy:
            x, y = label_xy[key]
            th = np.degrees(np.arctan2(x - cx, cy - y)) % 360
            r = np.hypot(x - cx, y - cy)
            if name not in no_line:
                sign = 1 if r > edge else -1
                elbow = edge + 0.7 * (r - edge)
                rows += [(i, np.radians(mid), edge + sign * 5), (i, np.radians(mid), elbow),
                         (i, np.radians(th), r - sign * 5)]
        else:
            th = mid
            r = edge + 10 if sd == 'o' else edge - 10
        reads_out = th > 360 + up[0] or th < up[1]
        rot = 90 - th if reads_out else 270 - th
        outward = r > R
        ha = 'left' if reads_out == outward else 'right'
        ax.text(np.radians(th), r, name, rotation=rot, rotation_mode='anchor', ha=ha, va='center',
                fontsize=14.3, color='black', zorder=5)
    lead = pd.DataFrame(rows, columns=['gene', 'theta', 'r'])
    sns.lineplot(data=lead, x='theta', y='r', units='gene', estimator=None, sort=False, color='#4A4A4A',
                 linewidth=1 * PX, legend=False, ax=ax)
    circle = np.radians(np.arange(0, 361))
    ax.plot(circle, np.full(361, R), color='black', lw=6 * PX, zorder=4)
    ax.set_ylim(0, RMAX)
    ax.set_xlim(0, 2 * np.pi)
    ax.set_axis_off()


ax_mt = make_ring_axes(1120, 973)
draw_gc(ax_mt, mt_gc_floor, mt_gc, mt_gc_half, mt_spike_theta, mt_spike_depth, mt_notch_theta, mt_notch_depth)
draw_genes(ax_mt, mt_names, mt_start, mt_end, mt_side, mt_group, mt_colors, mt_label_xy, 1120, 973, 732, (0, 180),
           no_line=('cox1*',))

ax_pt = make_ring_axes(1136, 2956)
draw_gc(ax_pt, pt_gc_floor, pt_gc, pt_gc_half, pt_spike_theta, pt_spike_depth)
draw_genes(ax_pt, pt_names, pt_start, pt_end, pt_side, pt_group, pt_colors, pt_label_xy, 1136, 2956, 737, (-4, 173))

# overlay in reference pixels for titles and legends
ov = fig.add_axes([0, 0, 1, 1], zorder=10)
ov.set_xlim(0, W)
ov.set_ylim(H, 0)
ov.set_axis_off()
ov.patch.set_visible(False)


def title_block(cx, y1, y2, y3, line2, line3):
    renderer = fig.canvas.get_renderer()
    a = ov.text(0, y1, 'Pyropia yezoensis', fontsize=38, fontweight='bold', fontstyle='italic', va='center')
    b = ov.text(0, y1, ' RZ-58', fontsize=38, fontweight='bold', va='center')
    wa = a.get_window_extent(renderer).width
    wb = b.get_window_extent(renderer).width
    a.set_x(cx - (wa + wb) / 2)
    b.set_x(cx - (wa + wb) / 2 + wa)
    ov.text(cx, y2, line2, fontsize=33, fontweight='bold', ha='center', va='center')
    ov.text(cx, y3, line3, fontsize=33, fontweight='bold', ha='center', va='center')


title_block(1120, 894, 974, 1050, 'mitochondrial genome', '41,692 bp')
title_block(1136, 2877, 2956, 3034, 'plastid genome', '191,977 bp')

ov.text(39, 77, 'A', fontsize=50, fontweight='bold', family='Liberation Sans', va='baseline')
ov.text(42, 2212, 'B', fontsize=45, fontweight='bold', family='Liberation Sans', va='baseline')


def draw_legend(labels, cols, x0, x1, text_x, y0, step, size, font):
    for i, (lab, col) in enumerate(zip(labels, cols)):
        y = y0 + i * step
        ov.add_patch(Rectangle((x0, y - size / 2), x1 - x0, size, facecolor=col, edgecolor='#222222', lw=2 * PX))
        ov.text(text_x, y, lab, fontsize=font, va='center', color='#111111')


draw_legend(mt_legend, mt_legend_colors, 3, 24, 33, 1797, 28.3, 22, 16.2)
draw_legend(pt_legend, pt_legend_colors, 11, 32, 41, 3702, 28.5, 22, 17.3)
ov.add_patch(Rectangle((138, 1980), 18, 17, facecolor='#25307E', lw=0))

fig.savefig('out.png', dpi=100)
